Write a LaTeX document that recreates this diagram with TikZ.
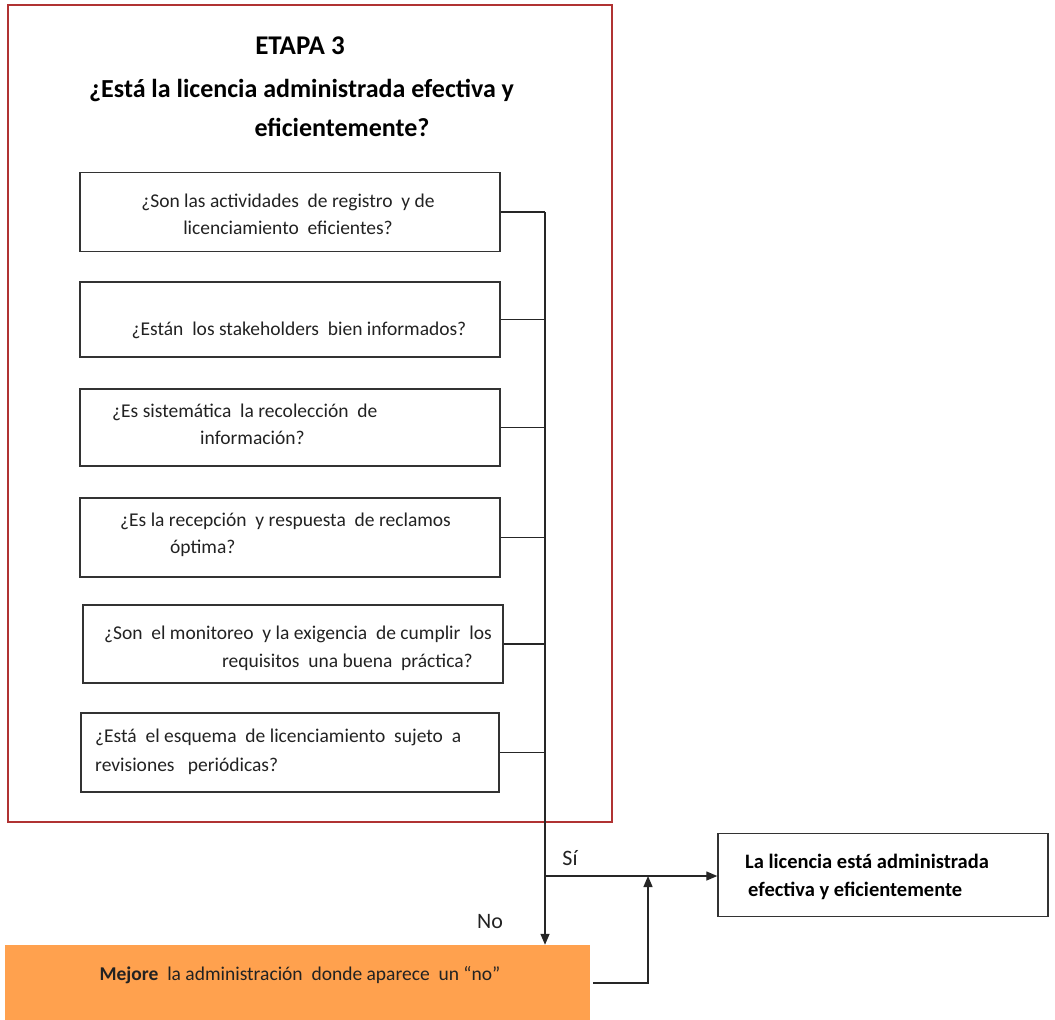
\documentclass[tikz,border=0pt]{standalone}
\usepackage{fontspec}
\setmainfont{Carlito}
\usetikzlibrary{arrows.meta}
\definecolor{frame}{HTML}{B03232}
\definecolor{orangefill}{HTML}{FFA14E}
\definecolor{boxline}{HTML}{333333}
\definecolor{txt}{HTML}{222222}
\tikzset{
  qbox/.style={draw=boxline, line width=1.4pt, minimum width=420pt, minimum height=78pt, inner sep=0pt},
  qtext/.style={font=\fontsize{19.5}{22}\selectfont, text=txt, inner sep=0pt},
  conn/.style={draw=black!85, line width=1.3pt},
  tip/.style={-{Triangle[length=11pt,width=9pt]}}
}
\begin{document}
\begin{tikzpicture}[x=1pt,y=-1pt]
\useasboundingbox (0,0) rectangle (1055,1020);
% frame
\node[draw=frame, line width=2.6pt, minimum width=604pt, minimum height=817pt, inner sep=0pt] (frame) at (310,413.5) {};
\node[font=\fontsize{27}{30}\selectfont\bfseries] (etapa) at (300,46) {ETAPA 3};
\node[font=\fontsize{26}{30}\selectfont\bfseries, anchor=west, inner sep=0pt] (t1) at (89,90) {¿Está la licencia administrada efectiva y};
\node[font=\fontsize{26}{30}\selectfont\bfseries, inner sep=0pt] (t2) at (342,127) {eficientemente?};
% boxes
\node[qbox, minimum height=79pt] (b1) at (290,212) {};
\node[qbox, minimum height=75pt] (b2) at (290,319.5) {};
\node[qbox, minimum height=77pt] (b3) at (290,427.5) {};
\node[qbox, minimum height=79pt] (b4) at (290,537.5) {};
\node[qbox, minimum height=78pt] (b5) at (293,644) {};
\node[qbox, minimum height=79pt, minimum width=418pt] (b6) at (290,752.5) {};
% texts
\node[qtext] (l1a) at (288,202) {¿Son las actividades\ \ de registro\ \ y de};
\node[qtext] (l1b) at (288,228) {licenciamiento\ \ eficientes?};
\node[qtext] (l2a) at (299,330) {¿Están\ \ los stakeholders\ \ bien informados?};
\node[qtext, anchor=west] (l3a) at (112,412) {¿Es sistemática\ \ la recolección\ \ de};
\node[qtext, anchor=west] (l3b) at (200,438) {información?};
\node[qtext, anchor=west] (l4a) at (120,521) {¿Es la recepción\ \ y respuesta\ \ de reclamos};
\node[qtext, anchor=west] (l4b) at (170,548) {óptima?};
\node[qtext, anchor=east] (l5a) at (492,634) {¿Son\ \ el monitoreo\ \ y la exigencia\ \ de cumplir\ \ los};
\node[qtext, anchor=east] (l5b) at (473,662) {requisitos\ \ una buena\ \ práctica?};
\node[qtext, anchor=west] (l6a) at (95,737) {¿Está\ \ el esquema\ \ de licenciamiento\ \ sujeto\ \ a};
\node[qtext, anchor=west] (l6b) at (95,766) {revisiones\ \ \ periódicas?};
% result and orange
\node[draw=boxline, line width=1.4pt, minimum width=330pt, minimum height=83pt, inner sep=0pt] (res) at (883,875) {};
\node[font=\fontsize{20.5}{24}\selectfont\bfseries, anchor=west, inner sep=0pt] (r1) at (745,861) {La licencia está administrada};
\node[font=\fontsize{20.5}{24}\selectfont\bfseries, anchor=west, inner sep=0pt] (r2) at (748,891) {efectiva y eficientemente};
\node[fill=orangefill, minimum width=585pt, minimum height=76pt, inner sep=0pt] (orange) at (297.5,983) {};
\node[qtext] (o1) at (300,975) {\textbf{Mejore}\ \ la administración\ \ donde aparece\ \ un “no”};
% connectors
\coordinate (bustop) at (545,212);
\coordinate (junc) at (545,876);
\draw[conn] (b1.east) -- (bustop);
\draw[conn] (b2.east) -- (b2.east -| bustop);
\draw[conn] (b3.east) -- (b3.east -| bustop);
\draw[conn] (b4.east) -- (b4.east -| bustop);
\draw[conn] (b5.east) -- (b5.east -| bustop);
\draw[conn] (b6.east) -- (b6.east -| bustop);
\draw[conn, tip] (bustop) -- (orange.north -| bustop);
\draw[conn, tip] (junc) -- (res.west |- junc);
\coordinate (upx) at (648,876);
\draw[conn, tip] ([xshift=3pt]orange.east) -| (upx);
\node[font=\fontsize{22}{26}\selectfont, text=txt] (si) at (570,858) {Sí};
\node[font=\fontsize{22}{26}\selectfont, text=txt] (no) at (490,922) {No};
\end{tikzpicture}
\end{document}
